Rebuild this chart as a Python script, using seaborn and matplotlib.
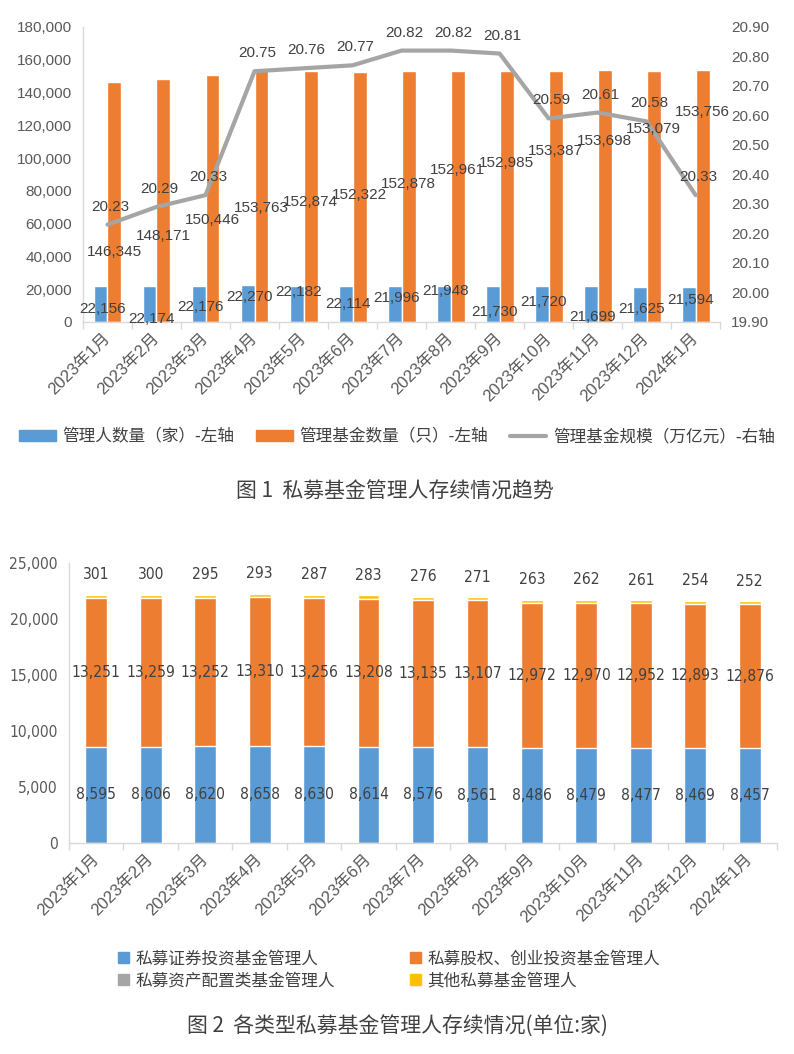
import matplotlib
matplotlib.use('Agg')
import matplotlib.pyplot as plt
import matplotlib.font_manager as fm
from matplotlib.textpath import TextPath
from matplotlib.patches import Patch
from matplotlib.lines import Line2D
import numpy as np
import pandas as pd
import seaborn as sns

#######################################################################################################################
# DATA #
#######################################################################################################################

months = ['2023年1月', '2023年2月', '2023年3月', '2023年4月', '2023年5月', '2023年6月', '2023年7月',
          '2023年8月', '2023年9月', '2023年10月', '2023年11月', '2023年12月', '2024年1月']

# figure 1
manager_count = [22156, 22174, 22176, 22270, 22182, 22114, 21996, 21948, 21730, 21720, 21699, 21625, 21594]
fund_count = [146345, 148171, 150446, 153763, 152874, 152322, 152878, 152961, 152985, 153387, 153698, 153079, 153756]
fund_scale = [20.23, 20.29, 20.33, 20.75, 20.76, 20.77, 20.82, 20.82, 20.81, 20.59, 20.61, 20.58, 20.33]

# figure 2
securities_mgr = [8595, 8606, 8620, 8658, 8630, 8614, 8576, 8561, 8486, 8479, 8477, 8469, 8457]
equity_vc_mgr = [13251, 13259, 13252, 13310, 13256, 13208, 13135, 13107, 12972, 12970, 12952, 12893, 12876]
asset_alloc_mgr = [9, 9, 9, 9, 9, 9, 9, 9, 9, 9, 9, 9, 9]
other_mgr = [301, 300, 295, 293, 287, 283, 276, 271, 263, 262, 261, 254, 252]

# where the data labels of figure 1 sit (left axis units), as placed in the original
mgr_label_y = [7900, 1800, 9150, 15250, 18300, 11000, 14600, 18900, 6100, 12200, 3050, 7900, 13400]
fund_label_y = [42700, 52460, 62200, 69500, 73200, 77500, 84200, 92700, 97000, 104300, 110400, 117700, 128100]

#######################################################################################################################
# STYLE #
#######################################################################################################################

BLUE = '#5B9BD5'
ORANGE = '#ED7D31'
GREY = '#A5A5A5'
YELLOW = '#FFC000'
TEXT = '#404040'
TICK = '#595959'
AXIS = '#D9D9D9'

sns.set_theme(style='white')
plt.rcParams['font.family'] = ['Liberation Sans', 'Noto Sans CJK SC', 'DejaVu Sans']
CJK = ['Noto Sans CJK SC', 'DejaVu Sans']

# figure 2 uses a narrow face for its numbers; take one if the system has it
Narrow_Font = None
for Entry in fm.fontManager.ttflist:
    Is_Narrow = 'Narrow' in Entry.name or 'Condensed' in Entry.name \
        or str(Entry.stretch) in ('condensed', 'extra-condensed', '300', '200')
    if Is_Narrow and Entry.style == 'normal' and Entry.weight in (400, 'normal', 'regular') \
            and 'Serif' not in Entry.name and 'Mono' not in Entry.name:
        Narrow_Font = Entry.fname
        break

if Narrow_Font:
    Narrow = fm.FontProperties(fname=Narrow_Font, size=13)
else:
    Narrow = fm.FontProperties(family=['Liberation Sans'], size=13)

# keep "13,251" about 46 px wide, as in the original
Width_Px = TextPath((0, 0), '13,251', prop=Narrow).get_extents().width * 100 / 72
Narrow.set_size(min(13, 13 * 46 / Width_Px))


def Style_Axis(Axis, Tick_Font):
    Axis.set_xlim(-0.5, len(months) - 0.5)
    for Side in ['top', 'right']:
        Axis.spines[Side].set_visible(False)
    for Side in ['left', 'bottom']:
        Axis.spines[Side].set_visible(True)
        Axis.spines[Side].set_color(AXIS)
        Axis.spines[Side].set_linewidth(1)
    Axis.set_xticks(np.arange(-0.5, len(months), 1), minor=True)
    Axis.tick_params(axis='x', which='minor', bottom=True, length=5, width=1, color=AXIS, direction='out')
    Axis.tick_params(axis='x', which='major', bottom=False, length=0, pad=10, labelsize=12, labelcolor=TICK)
    Axis.tick_params(axis='y', left=False, length=0, pad=8, labelcolor=TICK)
    for Label in Axis.get_yticklabels():
        Label.set_fontproperties(Tick_Font)
    Axis.set_xticks(np.arange(len(months)))
    Axis.set_xticklabels(months, rotation=45, ha='right', va='center', rotation_mode='anchor')
    Axis.set_xlabel('')
    Axis.set_ylabel('')
    Axis.grid(False)


Figure = plt.figure(figsize=(7.94, 10.54), dpi=100)

#######################################################################################################################
# FIGURE 1 #
#######################################################################################################################

Ax1 = Figure.add_axes([0.1045, 0.6945, 0.8025, 0.2799])
Bar_Data = pd.DataFrame({'月份': months * 2,
                         '数量': manager_count + fund_count,
                         '系列': ['管理人'] * len(months) + ['基金'] * len(months)})
sns.barplot(data=Bar_Data, x='月份', y='数量', hue='系列', palette=[BLUE, ORANGE], width=0.57, gap=0,
            saturation=1, errorbar=None, legend=False, ax=Ax1)
Ax1.set_ylim(0, 180000)
Ax1.set_yticks(np.arange(0, 180001, 20000))
Ax1.set_yticklabels([f'{v:,}' for v in range(0, 180001, 20000)])
Style_Axis(Ax1, fm.FontProperties(family=['Liberation Sans'], size=11))

Ax2 = Ax1.twinx()
sns.lineplot(x=np.arange(len(months)), y=fund_scale, color=GREY, linewidth=3, ax=Ax2)
Ax2.set_ylim(19.9, 20.9)
Ax2.set_yticks(np.round(np.arange(19.9, 20.91, 0.1), 2))
Ax2.set_yticklabels([f'{v:.2f}' for v in np.arange(19.9, 20.91, 0.1)])
Ax2.tick_params(axis='y', right=False, length=0, pad=8, labelsize=11, labelcolor=TICK)
for Side in ['top', 'right', 'left', 'bottom']:
    Ax2.spines[Side].set_visible(False)
Ax2.set_xlim(-0.5, len(months) - 0.5)
Ax2.grid(False)

for i in range(len(months)):
    Ax2.text(i - 0.1, mgr_label_y[i], f'{manager_count[i]:,}', transform=Ax1.transData,
             ha='center', va='center', fontsize=11, color=TEXT)
    Ax2.text(i + 0.1425, fund_label_y[i], f'{fund_count[i]:,}', transform=Ax1.transData,
             ha='center', va='center', fontsize=11, color=TEXT)
    Ax2.annotate(f'{fund_scale[i]:.2f}', (i, fund_scale[i]), xytext=(3, 18), textcoords='offset pixels',
                 ha='center', va='center', fontsize=11, color=TEXT)

Handles_1 = [Patch(color=BLUE), Patch(color=ORANGE), Line2D([0], [0], color=GREY, linewidth=3)]
Figure.legend(Handles_1, ['管理人数量（家）-左轴', '管理基金数量（只）-左轴', '管理基金规模（万亿元）-右轴'],
              loc='center', bbox_to_anchor=(0.5, 0.5854), ncol=3, frameon=False,
              prop={'family': CJK, 'size': 12}, labelcolor=TEXT,
              handlelength=2.2, handletextpad=0.4, columnspacing=1.3)

Figure.text(0.4975, 1 - 492 / 1054, '图 1  私募基金管理人存续情况趋势', ha='center', va='center',
            fontsize=15, family=CJK, fontweight='light', color='#404040')

#######################################################################################################################
# FIGURE 2 #
#######################################################################################################################

Ax3 = Figure.add_axes([0.0869, 0.2002, 0.8917, 0.2656])
Level_1 = np.array(securities_mgr)
Level_2 = Level_1 + np.array(equity_vc_mgr)
Level_3 = Level_2 + np.array(asset_alloc_mgr)
Level_4 = Level_3 + np.array(other_mgr)

# stacked look: draw cumulative totals, tallest first
for Heights, Color in [(Level_4, YELLOW), (Level_3, GREY), (Level_2, ORANGE), (Level_1, BLUE)]:
    sns.barplot(x=months, y=Heights, color=Color, width=0.4, saturation=1, errorbar=None, ax=Ax3)

Ax3.set_ylim(0, 25000)
Ax3.set_yticks(np.arange(0, 25001, 5000))
Ax3.set_yticklabels([f'{v:,}' for v in range(0, 25001, 5000)])
Style_Axis(Ax3, Narrow)

for i in range(len(months)):
    Ax3.text(i, Level_1[i] / 2, f'{securities_mgr[i]:,}', ha='center', va='center',
             fontproperties=Narrow, color=TEXT)
    Ax3.text(i, Level_1[i] + equity_vc_mgr[i] / 2, f'{equity_vc_mgr[i]:,}', ha='center', va='center',
             fontproperties=Narrow, color=TEXT)
    Ax3.annotate(f'{other_mgr[i]:,}', (i, Level_4[i]), xytext=(0, 20), textcoords='offset pixels',
                 ha='center', va='center', fontproperties=Narrow, color=TEXT)

Handles_2 = [Patch(color=BLUE), Patch(color=GREY), Patch(color=ORANGE), Patch(color=YELLOW)]
Figure.legend(Handles_2, ['私募证券投资基金管理人', '私募资产配置类基金管理人', '私募股权、创业投资基金管理人', '其他私募基金管理人'],
              loc='center', bbox_to_anchor=(0.49, 1 - 970 / 1054), ncol=2, frameon=False,
              prop={'family': CJK, 'size': 12}, labelcolor=TEXT,
              handlelength=0.65, handleheight=0.65, handletextpad=0.4, columnspacing=4.5, labelspacing=0.3)

Figure.text(0.5, 1 - 1027 / 1054, '图 2  各类型私募基金管理人存续情况(单位:家)', ha='center', va='center',
            fontsize=15, family=CJK, fontweight='light', color='#404040')

Figure.savefig('out.png', dpi=100)
